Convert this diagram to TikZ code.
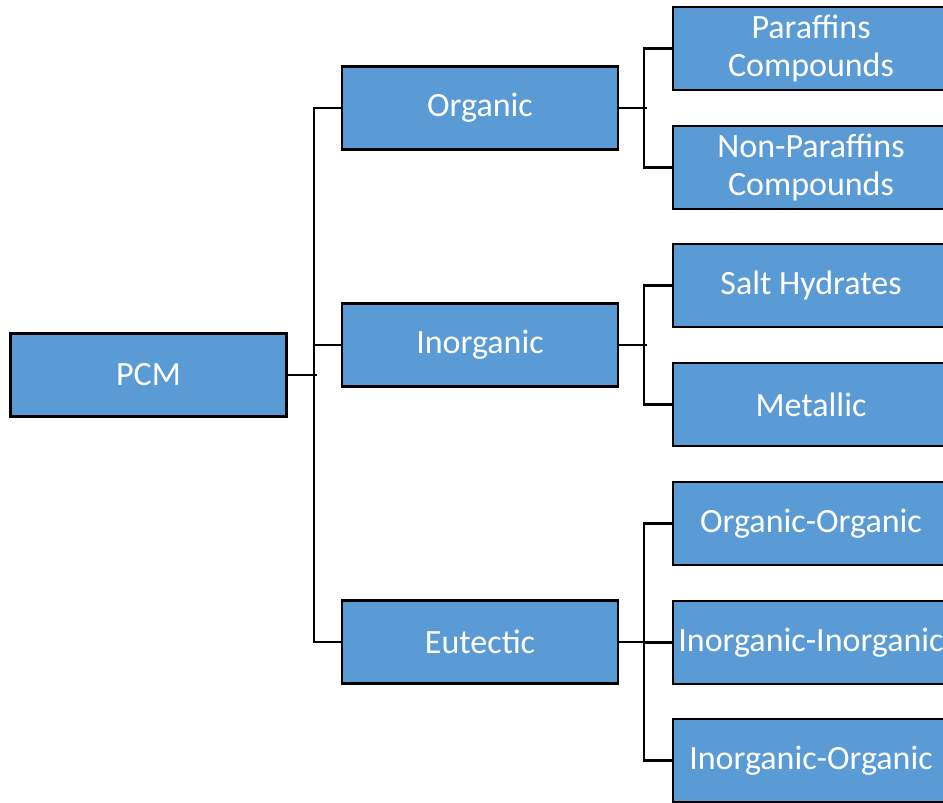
\documentclass[tikz,border=0pt]{standalone}
\usepackage{fontspec}
\setmainfont{Carlito}
\definecolor{boxblue}{HTML}{5B9BD5}
\tikzset{
  cbox/.style={draw=black, line width=2.2pt, fill=boxblue, text=white,
    minimum width=276pt, minimum height=83pt, inner sep=0pt, align=center,
    font=\fontsize{34}{38}\selectfont},
  conn/.style={draw=black, line width=2.2pt, line cap=rect}
}
\begin{document}
\begin{tikzpicture}[x=1pt,y=-1pt]
\clip (0,0) rectangle (943,803);
\fill[white] (0,0) rectangle (943,803);
\node[cbox] (pcm) at (148.5,375) {PCM};
\node[cbox] (org) at (480,108) {Organic};
\node[cbox] (inorg) at (480,345) {Inorganic};
\node[cbox] (eut) at (480,642) {Eutectic};
\node[cbox] (par) at (811,48.5) {Paraffins\\Compounds};
\node[cbox] (npar) at (811,167.5) {Non-Paraffins\\Compounds};
\node[cbox] (salt) at (811,285.5) {Salt Hydrates};
\node[cbox] (met) at (811,404.5) {Metallic};
\node[cbox] (oo) at (811,523.5) {Organic-Organic};
\node[cbox] (ii) at (811,642.5) {Inorganic-Inorganic};
\node[cbox] (io) at (811,760.5) {Inorganic-Organic};
% level 1
\draw[conn] (pcm.east) -- ++(28,0) coordinate (j0);
\draw[conn] (org.west) -- ++(-27,0) |- (eut.west);
\draw[conn] (inorg.west) -- ++(-27,0);
% level 2
\draw[conn] (org.east) -- ++(27,0);
\draw[conn] (par.west) -- ++(-28,0) |- (npar.west);
\draw[conn] (inorg.east) -- ++(27,0);
\draw[conn] (salt.west) -- ++(-28,0) |- (met.west);
\draw[conn] (eut.east) -- ++(27,0);
\draw[conn] (oo.west) -- ++(-28,0) |- (io.west);
\draw[conn] (ii.west) -- ++(-28,0);
\end{tikzpicture}
\end{document}
